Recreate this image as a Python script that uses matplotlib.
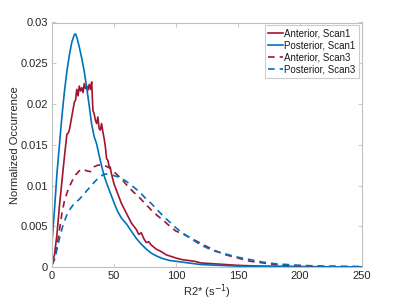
import matplotlib
matplotlib.use('Agg')
import matplotlib.pyplot as plt

plt.rcParams['font.family'] = ['Liberation Sans', 'DejaVu Sans']

# Anterior, Scan1 (solid red)
ant1_x = [0, 2, 4, 6, 8, 10, 12, 13, 14, 16, 18, 19, 20, 21, 22, 23, 24, 25, 26, 27, 28, 29, 30, 31, 32,
          33, 34, 35, 36, 37, 38, 39, 40, 41, 42, 43, 44, 45, 46, 47, 48, 50, 52, 54, 56, 58, 60, 62, 64,
          66, 68, 70, 72, 74, 76, 78, 80, 84, 88, 92, 96, 100, 105, 110, 115, 120, 130, 140, 150, 170,
          200, 250]
ant1_y = [0.0003, 0.0015, 0.004, 0.0075, 0.0105, 0.0135, 0.0163, 0.0164, 0.0168, 0.0185, 0.0202, 0.0205,
          0.0218, 0.0210, 0.0222, 0.0216, 0.0220, 0.0214, 0.0225, 0.0219, 0.0222, 0.0217, 0.0224, 0.0218,
          0.0227, 0.0192, 0.0188, 0.0180, 0.0176, 0.0184, 0.0170, 0.0168, 0.0176, 0.0166, 0.0158, 0.0148,
          0.0133, 0.0131, 0.0124, 0.0122, 0.0114, 0.0102, 0.0094, 0.0086, 0.0078, 0.0072, 0.0066, 0.0060,
          0.0054, 0.0050, 0.0046, 0.0040, 0.0042, 0.0035, 0.0030, 0.0031, 0.0027, 0.0022, 0.0019, 0.0015,
          0.0013, 0.0011, 0.0009, 0.0008, 0.0007, 0.0005, 0.0004, 0.0003, 0.0002, 0.0001, 0.00005, 0.0]

# Posterior, Scan1 (solid blue)
post1_x = [0, 2, 4, 6, 8, 10, 12, 14, 16, 18, 19, 20, 22, 24, 26, 28, 30, 32, 34, 36, 38, 40, 42, 44,
           46, 48, 50, 53, 56, 60, 64, 68, 72, 76, 80, 85, 90, 95, 100, 110, 120, 135, 150, 200, 250]
post1_y = [0.003, 0.007, 0.0115, 0.015, 0.0185, 0.0215, 0.024, 0.026, 0.0276, 0.0285, 0.0286, 0.0282,
           0.027, 0.0256, 0.024, 0.022, 0.0198, 0.0175, 0.016, 0.0151, 0.0137, 0.0124, 0.0112, 0.0103,
           0.0095, 0.0087, 0.0079, 0.0068, 0.0060, 0.0053, 0.0044, 0.0035, 0.0028, 0.0022, 0.0017, 0.0013,
           0.0010, 0.0008, 0.0007, 0.0005, 0.0003, 0.0002, 0.0001, 0.00003, 0.0]

# Anterior, Scan3 (dashed red)
ant3_x = [0, 2, 4, 6, 8, 10, 13, 16, 19, 22, 25, 28, 31, 34, 37, 40, 43, 46, 49, 52, 56, 60, 65, 70, 75,
          80, 85, 90, 95, 100, 105, 110, 115, 120, 125, 130, 140, 150, 160, 170, 180, 190, 200, 220, 250]
ant3_y = [0.0003, 0.0009, 0.0025, 0.0045, 0.0066, 0.0081, 0.0095, 0.0105, 0.0113, 0.0118, 0.0120, 0.0118,
          0.0117, 0.0123, 0.0125, 0.0125, 0.0124, 0.0122, 0.0118, 0.0114, 0.0108, 0.0101, 0.0093, 0.0086,
          0.0078, 0.0070, 0.0063, 0.0057, 0.0050, 0.0044, 0.0041, 0.0037, 0.0033, 0.0029, 0.0025, 0.0021,
          0.0015, 0.0011, 0.0007, 0.0005, 0.0003, 0.0002, 0.00015, 0.00008, 0.00003]

# Posterior, Scan3 (dashed blue)
post3_x = [0, 3, 6, 9, 12, 15, 18, 22, 26, 30, 34, 38, 42, 46, 50, 55, 60, 65, 70, 75, 80, 85, 90, 95,
           100, 105, 110, 115, 120, 130, 140, 150, 160, 170, 180, 190, 200, 220, 250]
post3_y = [0.0002, 0.0015, 0.0035, 0.0052, 0.0064, 0.0072, 0.0078, 0.0083, 0.0090, 0.0097, 0.0104, 0.0110,
           0.0114, 0.0114, 0.0112, 0.0110, 0.0105, 0.0099, 0.0093, 0.0085, 0.0078, 0.0070, 0.0062, 0.0055,
           0.0048, 0.0042, 0.0037, 0.0032, 0.0027, 0.0020, 0.0016, 0.0012, 0.0009, 0.0006, 0.0004, 0.0003,
           0.0002, 0.0001, 0.00005]

red = '#A2142F'
blue = '#0072BD'

fig = plt.figure(figsize=(4, 3), dpi=100)
ax = fig.add_axes([0.13, 0.11, 0.775, 0.815])

ax.plot(ant1_x, ant1_y, color=red, lw=1.2, label='Anterior, Scan1')
ax.plot(post1_x, post1_y, color=blue, lw=1.2, label='Posterior, Scan1')
ax.plot(ant3_x, ant3_y, color=red, lw=1.2, dashes=(4, 3), label='Anterior, Scan3')
ax.plot(post3_x, post3_y, color=blue, lw=1.2, dashes=(4, 3), label='Posterior, Scan3')

ax.set_xlim(0, 250)
ax.set_ylim(0, 0.03)
ax.set_xticks([0, 50, 100, 150, 200, 250])
ax.set_yticks([0, 0.005, 0.01, 0.015, 0.02, 0.025, 0.03])
ax.set_yticklabels(['0', '0.005', '0.01', '0.015', '0.02', '0.025', '0.03'])

for s in ax.spines.values():
    s.set_color('#c0c0c0')
    s.set_linewidth(0.8)
ax.tick_params(direction='in', length=3, width=0.6, color='#c0c0c0', pad=3,
               labelsize=8, labelcolor='#262626', top=True, right=True)

ax.set_xlabel('R2* (s$^{-1}$)', fontsize=8, color='#262626', labelpad=1)
ax.set_ylabel('Normalized Occurrence', fontsize=8, color='#262626', labelpad=0.5)

leg = ax.legend(loc='upper right', fontsize=7, frameon=True, fancybox=False,
                handlelength=1.6, handletextpad=0.1, borderpad=0.35, labelspacing=0.2,
                borderaxespad=0.3)
leg.get_frame().set_edgecolor('#c0c0c0')
leg.get_frame().set_linewidth(0.8)
for t in leg.get_texts():
    t.set_color('#1a1a1a')

fig.savefig('out.png', dpi=100)
